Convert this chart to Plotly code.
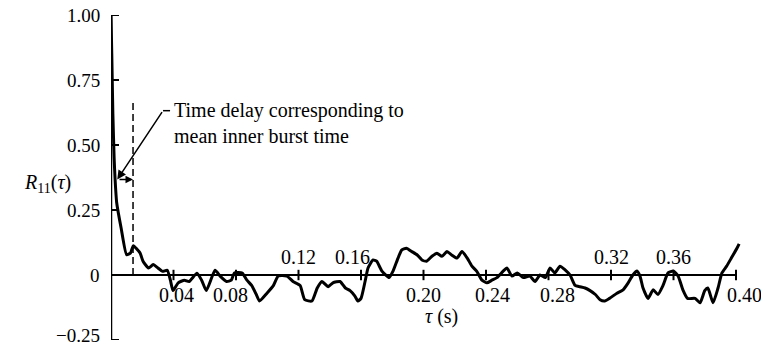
import plotly.graph_objects as go

# ---- data ----
tau = [0.0, 0.0005, 0.0012, 0.002, 0.0026, 0.0036, 0.0065, 0.010, 0.0125, 0.0143, 0.0165, 0.0186,
       0.0205, 0.024, 0.027, 0.030, 0.033, 0.036, 0.038, 0.0397, 0.043, 0.047, 0.050, 0.055,
       0.058, 0.061, 0.0666, 0.070, 0.074, 0.077, 0.079, 0.084, 0.087, 0.090, 0.093, 0.095,
       0.0998, 0.104, 0.107, 0.1126, 0.1165, 0.121, 0.124, 0.1286, 0.132, 0.135, 0.139, 0.142,
       0.1466, 0.150, 0.153, 0.156, 0.158, 0.160, 0.1626, 0.1645, 0.1677, 0.170, 0.1734, 0.178,
       0.1805, 0.1837, 0.186, 0.189, 0.1926, 0.196, 0.199, 0.202, 0.2054, 0.2086, 0.2118, 0.215,
       0.218, 0.2214, 0.2246, 0.228, 0.231, 0.234, 0.2374, 0.2406, 0.2438, 0.247, 0.251, 0.2534,
       0.2566, 0.260, 0.264, 0.268, 0.2714, 0.2746, 0.278, 0.281, 0.284, 0.2874, 0.2906, 0.2938,
       0.297, 0.300, 0.3034, 0.3066, 0.310, 0.313, 0.316, 0.319, 0.3238, 0.3277, 0.331, 0.334,
       0.3366, 0.3386, 0.3405, 0.3437, 0.347, 0.350, 0.3533, 0.3565, 0.360, 0.363, 0.366, 0.369,
       0.3738, 0.377, 0.380, 0.382, 0.3853, 0.3885, 0.391, 0.394, 0.397, 0.4006, 0.402]
r11 = [1.00, 0.85, 0.62, 0.45, 0.37, 0.28, 0.18, 0.078, 0.085, 0.113, 0.10, 0.085,
       0.053, 0.027, 0.040, 0.027, 0.014, 0.018, -0.02, -0.06, -0.03, -0.02, -0.025, 0.007,
       -0.02, -0.06, 0.018, -0.005, -0.025, -0.02, 0.008, 0.007, -0.02, -0.04, -0.075, -0.10,
       -0.07, -0.04, -0.004, -0.004, -0.025, -0.04, -0.095, -0.10, -0.05, -0.025, -0.045, -0.03,
       -0.025, -0.05, -0.06, -0.08, -0.10, -0.09, -0.025, 0.027, 0.058, 0.053, 0.015, -0.01,
       0.015, 0.065, 0.096, 0.103, 0.09, 0.077, 0.058, 0.053, 0.072, 0.084, 0.072, 0.09,
       0.077, 0.065, 0.09, 0.065, 0.034, 0.015, -0.02, -0.03, -0.02, -0.01, 0.015, 0.027,
       -0.004, 0.008, -0.01, -0.004, -0.025, 0.0, -0.01, 0.027, 0.008, 0.034, 0.02, 0.0,
       -0.04, -0.045, -0.05, -0.06, -0.075, -0.095, -0.10, -0.09, -0.07, -0.057, -0.03, 0.0,
       0.015, -0.005, -0.05, -0.09, -0.057, -0.075, -0.04, 0.008, 0.015, -0.005, -0.057, -0.09,
       -0.09, -0.107, -0.06, -0.05, -0.107, -0.05, 0.008, 0.034, 0.065, 0.103, 0.12]

y_ticks = [1.00, 0.75, 0.50, 0.25, 0.0, -0.25]
y_tick_text = ["1.00", "0.75", "0.50", "0.25", "0", "\u22120.25"]
x_ticks = [0.04, 0.08, 0.12, 0.16, 0.20, 0.24, 0.28, 0.32, 0.36, 0.40]
x_tick_text = ["0.04", "0.08", "0.12", "0.16", "0.20", "0.24", "0.28", "0.32", "0.36", "0.40"]
x_labels_above = ["0.12", "0.16", "0.32", "0.36"]
burst_delay = 0.0141      # dashed-line delay (s)
burst_level = 0.367       # R11 level of the dimension arrow

FONT = "Liberation Serif"
PX_PER_S = 1562.5
PLOT_W = 630

fig = go.Figure()
fig.add_trace(go.Scatter(x=tau, y=r11, mode="lines",
                         line=dict(color="black", width=3, shape="spline", smoothing=0.5),
                         hoverinfo="skip", showlegend=False))

shapes = []
annotations = []
# vertical axis with inward ticks
shapes.append(dict(type="line", xref="x", yref="y", x0=0, x1=0, y0=y_ticks[-1], y1=y_ticks[0],
                   line=dict(color="black", width=2.5)))
for v, t in zip(y_ticks, y_tick_text):
    shapes.append(dict(type="line", xref="x", yref="y", x0=0, x1=8 / PX_PER_S, y0=v, y1=v,
                       line=dict(color="black", width=2)))
    annotations.append(dict(x=-9 / PLOT_W, y=v, xref="paper", yref="y", text=t,
                            showarrow=False, xanchor="right", yanchor="middle",
                            yshift=5 if v == y_ticks[-1] else 0,
                            font=dict(family=FONT, size=19, color="black")))
# horizontal axis at R11 = 0
shapes.append(dict(type="line", xref="x", yref="y", x0=0, x1=x_ticks[-1], y0=0, y1=0,
                   line=dict(color="black", width=2)))
label_shift = {"0.04": 3, "0.08": -6, "0.16": -9, "0.24": 6, "0.28": 9, "0.40": 8}
for v, t in zip(x_ticks, x_tick_text):
    shapes.append(dict(type="line", xref="x", yref="y", x0=v, x1=v, y0=-0.02, y1=0.02,
                       line=dict(color="black", width=2)))
    above = t in x_labels_above
    annotations.append(dict(x=v, y=0.07 if above else -0.077, xref="x", yref="y", text=t,
                            showarrow=False, xanchor="center", yanchor="middle",
                            xshift=label_shift.get(t, 0),
                            font=dict(family=FONT, size=20, color="black")))

# dashed vertical line at the burst delay
shapes.append(dict(type="line", xref="x", yref="y", x0=burst_delay, x1=burst_delay,
                   y0=0, y1=0.666, line=dict(color="black", width=1.5, dash="7px,4px")))
# short horizontal lead of the pointer near the text
shapes.append(dict(type="line", xref="x", yref="y", x0=0.0333, x1=0.0378,
                   y0=0.632, y1=0.632, line=dict(color="black", width=1.5)))

# pointer arrow from text to the curve
annotations.append(dict(x=0.0040, y=burst_level, ax=0.0333, ay=0.632, axref="x", ayref="y",
                        xref="x", yref="y", text="", showarrow=True, arrowhead=2,
                        arrowsize=1.2, arrowwidth=1.5, arrowcolor="black"))
# dimension arrow to the dashed line
annotations.append(dict(x=burst_delay, y=burst_level, ax=0.0045, ay=burst_level,
                        axref="x", ayref="y", xref="x", yref="y", text="", showarrow=True,
                        arrowhead=2, arrowsize=1.0, arrowwidth=1.5, arrowcolor="black"))
annotations.append(dict(x=0.0393, y=0.585, xref="x", yref="y",
                        text="Time delay corresponding to<br>mean inner burst time",
                        showarrow=False, xanchor="left", yanchor="middle", align="left",
                        font=dict(family=FONT, size=20, color="black")))
# axis titles
annotations.append(dict(x=-64 / PLOT_W, y=0.352, xref="paper", yref="y",
                        text="<i>R</i><sub>11</sub>(<i>\u03c4</i>)", showarrow=False,
                        xanchor="center", yanchor="middle",
                        font=dict(family=FONT, size=20, color="black")))
annotations.append(dict(x=0.2115, y=-0.158, xref="x", yref="y",
                        text="<i>\u03c4</i> (s)", showarrow=False,
                        xanchor="center", yanchor="middle",
                        font=dict(family=FONT, size=20, color="black")))

fig.update_layout(
    width=761, height=349,
    margin=dict(l=111, r=20, t=15, b=9),
    paper_bgcolor="white", plot_bgcolor="white",
    shapes=shapes, annotations=annotations,
    xaxis=dict(range=[0, PLOT_W / PX_PER_S], visible=False, fixedrange=True),
    yaxis=dict(range=[-0.25, 1.0], visible=False, fixedrange=True),
    showlegend=False,
)

fig.write_html("out.html")
